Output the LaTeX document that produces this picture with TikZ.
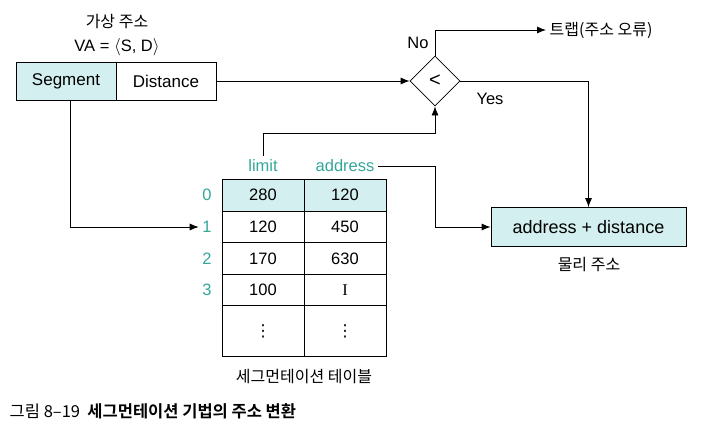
\documentclass[tikz,border=0pt]{standalone}
\usepackage{fontspec}
\setmainfont{Liberation Sans}
\newfontfamily\kr[BoldFont={Noto Sans CJK KR Bold}]{Noto Sans CJK KR}
\newfontfamily\serifI{Liberation Serif}
\newfontfamily\dejavu{DejaVu Sans}
\usetikzlibrary{shapes.geometric,arrows.meta}
\definecolor{segfill}{HTML}{D3EFF0}
\definecolor{teal}{HTML}{33A898}
\tikzset{
  vbox/.style={draw,minimum width=100pt,minimum height=38pt,inner sep=0pt},
  cell/.style={draw,minimum width=82pt,minimum height=31.5pt,inner sep=0pt},
  idx/.style={text=teal},
  krlabel/.style={font=\kr\fontsize{16}{19}\selectfont}
}

\begin{document}
\begin{tikzpicture}[x=1pt,y=-1pt,>={Latex[length=9pt,width=7pt]},line width=0.8pt,
  font=\fontsize{16.5}{19}\selectfont]
\useasboundingbox (0,0) rectangle (701,436);
% virtual address
\node [krlabel] (vlabel) at (117,22) {가상 주소};
\node (va) at (117,47) {VA = $\langle$S, D$\rangle$};
\node [vbox,fill=segfill,font=\fontsize{17}{20}\selectfont] (seg) at (66,81) {Segment};
\node [vbox,font=\fontsize{17}{20}\selectfont] (dist) at (166,81) {Distance};
% compare
\node [draw,diamond,minimum width=50pt,minimum height=50pt,inner sep=0pt,
  font=\fontsize{20}{22}\selectfont] (cmp) at (435,81) {<};
\node [krlabel,anchor=west] (trap) at (546,30) {트랩(주소 오류)};
\node (no) at (418,43) {No};
\node (yes) at (490,99) {Yes};
% physical address
\node [vbox,fill=segfill,minimum width=195pt,minimum height=39pt,
  font=\fontsize{18}{21}\selectfont] (phys) at (588.5,227) {address + distance};
\node [krlabel] (physlbl) at (589,265) {물리 주소};
% segment table
\node [idx] (limit) at (263,166) {limit};
\node [idx] (addr) at (345,166) {address};
\node [cell,fill=segfill] (l0) at (263,195.3) {280};
\node [cell,fill=segfill] (a0) at (345,195.3) {120};
\node [cell] (l1) at (263,227) {120};
\node [cell] (a1) at (345,227) {450};
\node [cell] (l2) at (263,258.5) {170};
\node [cell] (a2) at (345,258.5) {630};
\node [cell] (l3) at (263,290) {100};
\node [cell] (a3) at (345,290) {\serifI I};
\node [cell,minimum height=50.5pt] (l4) at (263,331) {\dejavu ⋮};
\node [cell,minimum height=50.5pt] (a4) at (345,331) {\dejavu ⋮};
\node [idx] (r0) at (207,195.3) {0};
\node [idx] (r1) at (207,227) {1};
\node [idx] (r2) at (207,258.5) {2};
\node [idx] (r3) at (207,290) {3};
\node [krlabel] (tbl) at (304,377) {세그먼테이션 테이블};
% caption
\node [krlabel,anchor=west,font=\kr\fontsize{16.5}{19}\selectfont] (cap) at (6,411)
  {그림 8–19\ \ \textbf{세그먼테이션 기법의 주소 변환}};
% connectors
\coordinate (limbend) at (263,133);
\coordinate (addrbend) at (435,166);
\draw [->] (dist) -- (cmp);
\draw [->] (cmp.north) |- (trap.west);
\draw [->] (cmp.east) -| (phys.north);
\draw [->] ([xshift=4pt]seg.south) |- (r1.west);
\draw [->] (limit) -- (limbend) -| (cmp.south);
\draw [->] (addr) -- (addrbend) |- (phys.west);
\end{tikzpicture}
\end{document}
